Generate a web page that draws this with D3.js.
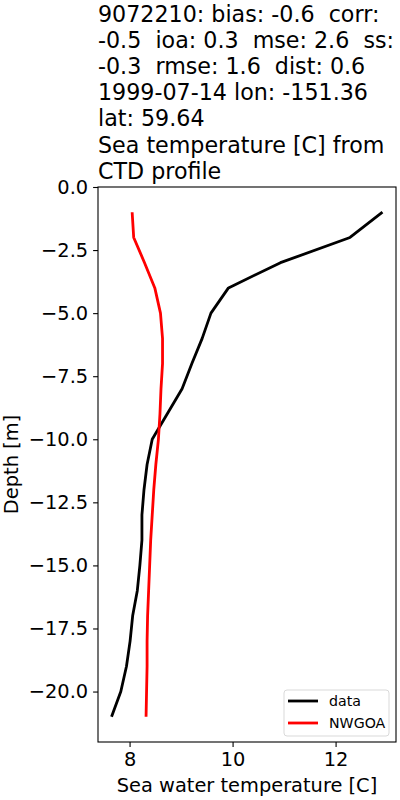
<!DOCTYPE html>
<html>
	<head>
		<meta charset="utf-8" />
		<title>CTD profile vs NWGOA</title>
		<script src="https://d3js.org/d3.v7.min.js"></script>
		<style>
			body { margin: 0; background: #fff; }
			text { font-family: "DejaVu Sans", sans-serif; fill: #000; white-space: pre; }
		</style>
	</head>
	<body>
		<svg width="400" height="800"></svg>
		<script>
			// depth levels [m] and temperature profiles [C]
			const depths = [-1, -2, -3, -4, -5, -6, -7, -8, -9, -10, -11, -12, -13, -14, -15, -16, -17, -18, -19, -20, -21];
			const dataTemp = [12.91, 12.28, 10.93, 9.92, 9.58, 9.41, 9.21, 9.02, 8.73, 8.44, 8.34, 8.28, 8.24, 8.24, 8.2, 8.15, 8.06, 8.01, 7.94, 7.83, 7.65];
			const nwgoaTemp = [8.05, 8.08, 8.29, 8.49, 8.6, 8.64, 8.64, 8.61, 8.59, 8.56, 8.51, 8.47, 8.44, 8.41, 8.39, 8.37, 8.35, 8.34, 8.34, 8.33, 8.32];
			const xTicks = [8, 10, 12];
			const yTicks = [0, -2.5, -5, -7.5, -10, -12.5, -15, -17.5, -20];
			const titleLines = [
				"9072210: bias: -0.6  corr:",
				"-0.5  ioa: 0.3  mse: 2.6  ss:",
				"-0.3  rmse: 1.6  dist: 0.6",
				"1999-07-14 lon: -151.36",
				"lat: 59.64",
				"Sea temperature [C] from",
				"CTD profile"
			];

			const series = [
				{ name: "data", values: dataTemp, color: "#000000" },
				{ name: "NWGOA", values: nwgoaTemp, color: "#ff0000" }
			];

			const svg = d3.select("svg");
			const plotLeft = 98, plotRight = 396, plotTop = 187, plotBottom = 742;

			// matplotlib-style 5% margins
			const allT = dataTemp.concat(nwgoaTemp);
			const tMin = d3.min(allT), tMax = d3.max(allT);
			const tPad = (tMax - tMin) * 0.05;
			const dPad = (d3.max(depths) - d3.min(depths)) * 0.05;

			const x = d3.scaleLinear().domain([tMin - tPad, tMax + tPad]).range([plotLeft, plotRight]);
			const y = d3.scaleLinear().domain([d3.min(depths) - dPad, 0]).range([plotBottom, plotTop]);

			const fmtY = (d) => d3.format(".1f")(d).replace("-", "\u2212");

			// axes
			const xAxis = svg.append("g")
				.attr("transform", `translate(0,${plotBottom})`)
				.call(d3.axisBottom(x).tickValues(xTicks).tickSize(4.9).tickPadding(4.9).tickFormat(d3.format("d")));
			const yAxis = svg.append("g")
				.attr("transform", `translate(${plotLeft},0)`)
				.call(d3.axisLeft(y).tickValues(yTicks).tickSize(4.9).tickPadding(4.9).tickFormat(fmtY));
			[xAxis, yAxis].forEach((g) => {
				g.select(".domain").remove();
				g.selectAll("line").attr("stroke", "#000").attr("stroke-width", 1.1);
				g.selectAll("text").style("font-size", "19.4px").attr("fill", "#000");
			});

			// profile lines
			const line = d3.line()
				.x((d) => x(d.t))
				.y((d) => y(d.z));

			series.forEach((s) => {
				svg.append("path")
					.datum(depths.map((z, i) => ({ z: z, t: s.values[i] })))
					.attr("d", line)
					.attr("fill", "none")
					.attr("stroke", s.color)
					.attr("stroke-width", 2.8)
					.attr("stroke-linejoin", "round");
			});

			// frame
			svg.append("rect")
				.attr("x", plotLeft).attr("y", plotTop)
				.attr("width", plotRight - plotLeft).attr("height", plotBottom - plotTop)
				.attr("fill", "none").attr("stroke", "#000").attr("stroke-width", 1.1);

			// legend
			const legend = svg.append("g").attr("transform", "translate(284,690)");
			legend.append("rect")
				.attr("width", 105).attr("height", 46).attr("rx", 3)
				.attr("fill", "#fff").attr("fill-opacity", 0.8)
				.attr("stroke", "#d9d9d9").attr("stroke-width", 1);
			series.forEach((s, i) => {
				const ly = 11 + i * 22;
				legend.append("line")
					.attr("x1", 4).attr("x2", 34).attr("y1", ly).attr("y2", ly)
					.attr("stroke", s.color).attr("stroke-width", 2.8);
				legend.append("text")
					.attr("x", 45).attr("y", ly).attr("dy", "0.35em")
					.style("font-size", "14.2px")
					.text(s.name);
			});

			// axis labels
			svg.append("text")
				.attr("x", (plotLeft + plotRight) / 2).attr("y", 792)
				.attr("text-anchor", "middle")
				.style("font-size", "19.4px")
				.text("Sea water temperature [C]");
			svg.append("text")
				.attr("transform", `translate(18,${(plotTop + plotBottom) / 2}) rotate(-90)`)
				.attr("text-anchor", "middle")
				.style("font-size", "19.4px")
				.text("Depth [m]");

			// title
			svg.append("g")
				.selectAll("text")
				.data(titleLines)
				.join("text")
				.attr("x", plotLeft)
				.attr("y", (d, i) => 22 + i * 26.1)
				.style("font-size", "22.2px")
				.text((d) => d);
		</script>
	</body>
</html>
